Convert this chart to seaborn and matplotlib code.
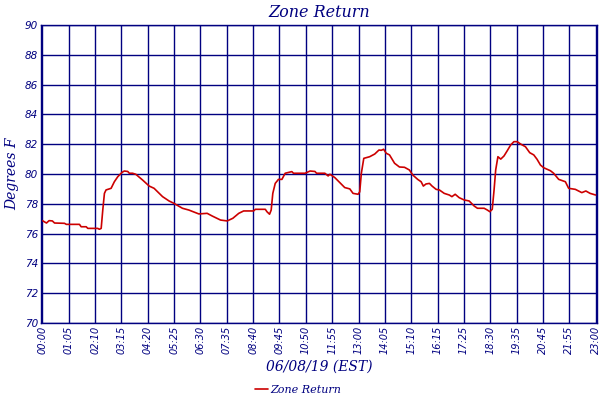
import matplotlib
matplotlib.use("Agg")
import matplotlib.pyplot as plt
import seaborn as sns
import pandas as pd

# sample index (13 samples per labelled tick interval)
sample = [0, 2.0, 3.3, 4.9, 6.0, 10.9, 11.8, 18.3, 19.1, 21.6, 22.4, 27.3, 28.1, 29.0,
          29.8, 30.6, 31.4, 33.9, 35.5, 37.2, 39.3, 40.4, 42.1, 42.9, 44.5, 46.1, 49.4,
          52.7, 55.1, 59.3, 62.5, 64.9, 69.1, 72.3, 77.2, 81.3, 83.8, 87.9, 91.2, 94.0,
          96.9, 99.3, 104.2, 105.1, 110.0, 110.8, 112.1, 112.9, 113.7, 114.9, 116.5,
          118.2, 119.8, 123.1, 123.9, 129.6, 132.1, 134.5, 135.3, 139.4, 141.0, 141.9,
          144.3, 146.8, 149.2, 151.7, 153.3, 155.8, 156.6, 157.4, 158.6, 161.5, 164.0,
          166.1, 167.2, 168.4, 169.7, 171.3, 173.8, 176.2, 178.7, 181.1, 182.8, 185.2,
          186.9, 188.0, 189.3, 191.0, 192.3, 194.3, 195.9, 198.3, 200.8, 202.1, 203.7,
          205.7, 208.1, 210.6, 213.1, 214.7, 218.0, 219.6, 220.8, 222.0, 222.9, 223.7,
          224.8, 226.2, 227.8, 229.4, 231.1, 232.7, 234.3, 236.0, 238.4, 240.5, 242.5,
          244.1, 245.8, 247.4, 250.7, 252.3, 254.8, 258.1, 259.7, 263.0, 266.2, 268.2,
          270.3, 273.0]
zone_return = [76.87, 76.71, 76.87, 76.85, 76.71, 76.69, 76.62, 76.62, 76.46, 76.46, 76.35,
               76.35, 76.29, 76.35, 77.6, 78.7, 78.93, 79.04, 79.48, 79.82, 80.11, 80.2,
               80.17, 80.05, 80.05, 79.98, 79.6, 79.19, 79.04, 78.48, 78.19, 78.03, 77.7,
               77.58, 77.32, 77.36, 77.18, 76.91, 76.85, 77.03, 77.36, 77.52, 77.52, 77.63,
               77.63, 77.47, 77.3, 77.58, 78.7, 79.37, 79.64, 79.64, 80.05, 80.16, 80.05,
               80.05, 80.2, 80.17, 80.05, 80.05, 79.87, 79.98, 79.76, 79.42, 79.09, 79.0,
               78.7, 78.64, 78.8, 80.05, 81.05, 81.16, 81.34, 81.61, 81.59, 81.66, 81.39,
               81.28, 80.72, 80.47, 80.45, 80.27, 79.93, 79.64, 79.48, 79.19, 79.33, 79.37,
               79.19, 78.97, 78.93, 78.7, 78.59, 78.48, 78.64, 78.41, 78.26, 78.19, 77.85,
               77.7, 77.7, 77.58, 77.47, 77.63, 78.93, 80.27, 81.16, 81.0, 81.21, 81.56,
               81.95, 82.17, 82.17, 82.01, 81.83, 81.43, 81.28, 80.99, 80.6, 80.42, 80.22,
               80.05, 79.64, 79.48, 79.04, 78.97, 78.75, 78.86, 78.7, 78.59]

tick_labels = ["00:00", "01:05", "02:10", "03:15", "04:20", "05:25", "06:30", "07:35",
               "08:40", "09:45", "10:50", "11:55", "13:00", "14:05", "15:10", "16:15",
               "17:25", "18:30", "19:35", "20:45", "21:55", "23:00"]
y_ticks = [70, 72, 74, 76, 78, 80, 82, 84, 86, 88, 90]

NAVY = "#000080"
RED = "#cc0000"

sns.set_style("white")
df = pd.DataFrame({"sample": sample, "Zone Return": zone_return})

fig = plt.figure(figsize=(6, 4), dpi=100)
ax = fig.add_axes([41 / 600, 1 - 323 / 400, 556 / 600, 298 / 400])
sns.lineplot(data=df, x="sample", y="Zone Return", ax=ax, color=RED, linewidth=1.2,
             label="Zone Return", legend=False)

step = 13
ax.set_xticks([i * step for i in range(len(tick_labels))])
ax.set_xticklabels(tick_labels, rotation=90, fontsize=7, style="italic", color=NAVY)
ax.set_yticks(y_ticks)
ax.set_yticklabels([str(v) for v in y_ticks], fontsize=7.5, style="italic", color=NAVY)
ax.set_xlim(-0.7, 273.7)
ax.set_ylim(70, 90)
ax.tick_params(axis="both", length=0, pad=2)
ax.grid(True, color=NAVY, linewidth=1.0)
ax.set_axisbelow(True)
for s in ax.spines.values():
    s.set_color(NAVY)
    s.set_linewidth(1.0)

ax.set_title("Zone Return", fontsize=11.5, style="italic", family="DejaVu Serif",
             color=NAVY, pad=6)
ax.set_xlabel("06/08/19 (EST)", fontsize=10, style="italic", family="DejaVu Serif",
              color=NAVY, labelpad=4)
ax.set_ylabel("Degrees F", fontsize=10, style="italic", family="DejaVu Serif",
              color=NAVY, labelpad=4)

leg = fig.legend(handles=ax.get_lines()[:1], labels=["Zone Return"], loc="center",
                 bbox_to_anchor=(298 / 600, 1 - 390 / 400), frameon=False,
                 handlelength=1.2, handletextpad=0.2,
                 prop={"family": "DejaVu Serif", "style": "italic", "size": 8})
for t in leg.get_texts():
    t.set_color(NAVY)

fig.savefig("out.png", dpi=100)
